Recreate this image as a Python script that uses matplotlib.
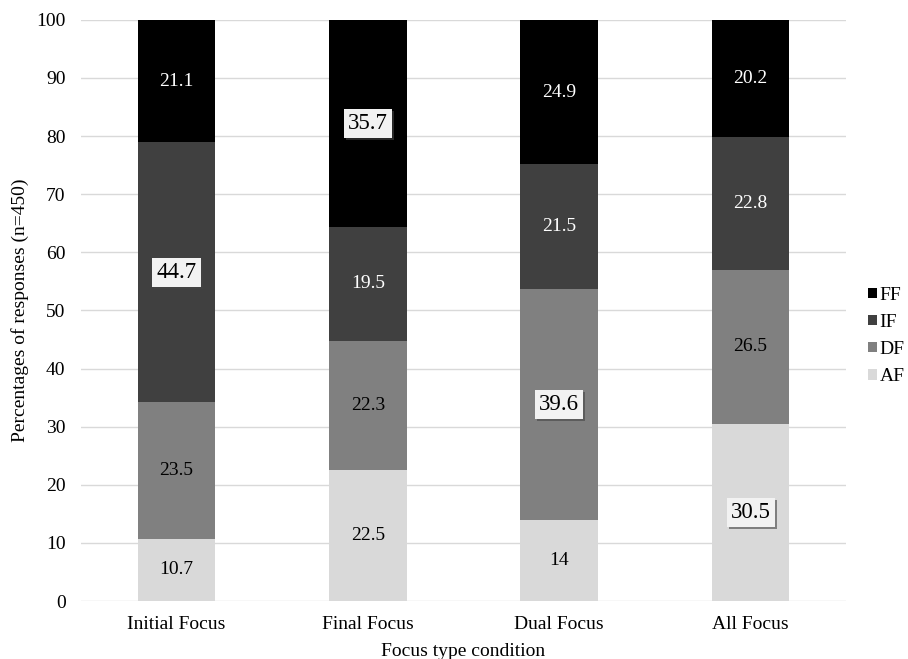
import matplotlib
matplotlib.use("Agg")
import matplotlib.pyplot as plt
import matplotlib.patheffects as pe
import numpy as np

plt.rcParams['font.family'] = ['Liberation Serif', 'DejaVu Serif']

categories = ["Initial Focus", "Final Focus", "Dual Focus", "All Focus"]
AF = [10.7, 22.5, 14, 30.5]
DF = [23.5, 22.3, 39.6, 26.5]
IF = [44.7, 19.5, 21.5, 22.8]
FF = [21.1, 35.7, 24.9, 20.2]
series_names = ["AF", "DF", "IF", "FF"]
series = [AF, DF, IF, FF]
colors = ["#d9d9d9", "#808080", "#404040", "#000000"]
text_colors = ["black", "black", "white", "white"]

fig = plt.figure(figsize=(9.08, 6.59), dpi=100)
ax = fig.add_axes([0.089, 0.088, 0.843, 0.882])

x = np.arange(len(categories))
bottom = np.zeros(len(categories))
for name, vals, col, tc in zip(series_names, series, colors, text_colors):
    vals = np.array(vals, dtype=float)
    ax.bar(x, vals, bottom=bottom, width=0.405, color=col, label=name, zorder=2)
    for i, v in enumerate(vals):
        y = bottom[i] + v / 2
        lbl = f"{v:g}"
        # largest segment in each bar is highlighted
        col_vals = [s[i] for s in series]
        if v == max(col_vals):
            t = ax.text(x[i], y, lbl, ha='center', va='center', fontsize=16.5,
                        color='black', zorder=5,
                        bbox=dict(boxstyle='square,pad=0.18', fc='#f2f2f2', ec='none'))
            t.get_bbox_patch().set_path_effects([
                pe.SimplePatchShadow(offset=(1.5, -1.5), shadow_rgbFace='#444444', alpha=0.6),
                pe.Normal()])
        else:
            ax.text(x[i], y, lbl, ha='center', va='center', fontsize=14,
                    color=tc, zorder=5)
    bottom += vals

ax.set_xlim(-0.5, 3.5)
ax.set_ylim(0, 100)
ax.set_yticks(range(0, 101, 10))
ax.set_xticks(x)
ax.set_xticklabels(categories, fontsize=14)
ax.tick_params(axis='y', labelsize=14, length=0, pad=11)
ax.tick_params(axis='x', length=0, pad=11)
ax.grid(axis='y', color='#d9d9d9', linewidth=1, zorder=0)
for s in ax.spines.values():
    s.set_visible(False)
ax.set_ylabel("Percentages of responses (n=450)", fontsize=14, labelpad=5)
ax.set_xlabel("Focus type condition", fontsize=14, labelpad=7)

handles, labels = ax.get_legend_handles_labels()
leg = fig.legend(handles[::-1], labels[::-1], loc='center left',
                 bbox_to_anchor=(0.956, 0.49), frameon=False, fontsize=14,
                 handlelength=0.45, handleheight=0.45, handletextpad=0.15,
                 labelspacing=0.52, borderaxespad=0, borderpad=0)

fig.savefig("out.png", dpi=100)
